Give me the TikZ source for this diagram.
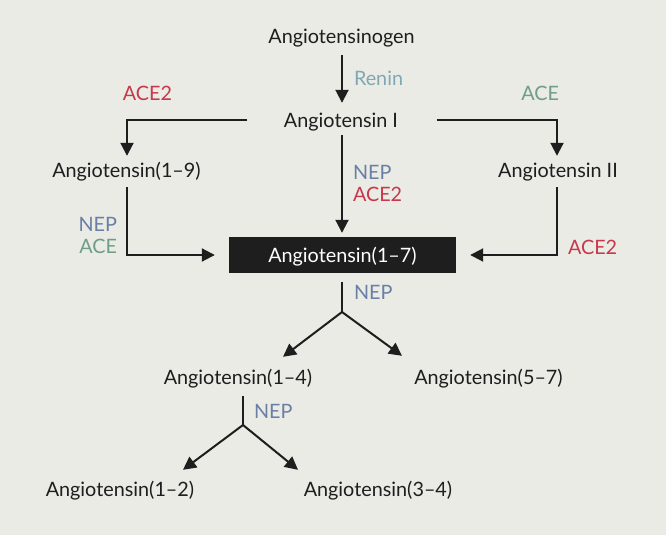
\documentclass[tikz,border=0pt]{standalone}
\usepackage{fontspec}
\setmainfont{Lato}
\usetikzlibrary{arrows.meta,positioning}
\definecolor{bgcol}{HTML}{E9EBE4}
\definecolor{renin}{HTML}{7FA8B5}
\definecolor{acetwo}{HTML}{C8374B}
\definecolor{aceone}{HTML}{6E9E86}
\definecolor{nep}{HTML}{6A7FA6}
\definecolor{ink}{HTML}{1E1E1E}

\begin{document}
\begin{tikzpicture}[x=1pt, y=-1pt,
  mol/.style={font=\fontsize{19.8}{22}\selectfont, text=ink, inner sep=2pt, text height=14pt, text depth=0pt},
  hub/.style={mol, fill=ink, text=white, minimum width=227pt, minimum height=36pt},
  enz/.style={font=\fontsize{19.8}{22}\selectfont, inner sep=1pt},
  arr/.style={-{Triangle[length=13pt,width=13pt]}, line width=2pt, draw=ink},
  ln/.style={line width=2pt, draw=ink}
]
\fill[bgcol] (0,0) rectangle (666,535);
\useasboundingbox (0,0) rectangle (666,535);

\node[mol] (agt) at (341.5,37) {Angiotensinogen};
\node[mol] (ang1) at (341,120) {Angiotensin I};
\node[mol] (ang19) at (126.5,170) {Angiotensin(1–9)};
\node[mol] (ang2) at (558,170) {Angiotensin II};
\node[hub] (ang17) at (342.5,255) {Angiotensin(1–7)};
\node[mol] (ang14) at (238,377) {Angiotensin(1–4)};
\node[mol] (ang57) at (488.5,377) {Angiotensin(5–7)};
\node[mol] (ang12) at (120,489) {Angiotensin(1–2)};
\node[mol] (ang34) at (378,489) {Angiotensin(3–4)};

\coordinate (fk1) at (342,312);
\coordinate (fk2) at (243,425);

% upper pathway
\draw[arr, shorten <=9pt, shorten >=8pt] (agt.south -| fk1) -- node[enz, right=10pt, text=renin] {Renin} (ang1.north -| fk1);
\draw[arr, shorten >=5pt] ([xshift=-34.5pt]ang1.west) -| node[enz, pos=0.415, above=17pt, text=acetwo] {ACE2} ([xshift=0.5pt]ang19.north);
\draw[arr, shorten >=5pt] ([xshift=36.5pt]ang1.east) -| node[enz, pos=0.43, above=17pt, text=aceone] {ACE} ([xshift=-1pt]ang2.north);
\draw[arr, shorten <=6pt, shorten >=4pt] (ang1.south -| fk1) -- node[enz, right=9pt, align=left] {\textcolor{nep}{NEP}\\\textcolor{acetwo}{ACE2}} (ang17.north -| fk1);

% into Angiotensin(1-7)
\draw[arr, shorten <=8pt, shorten >=14pt] ([xshift=0.5pt]ang19.south) |- node[enz, pos=0.37, left=8pt, align=right] {\textcolor{nep}{NEP}\\\textcolor{aceone}{ACE}} (ang17.west);
\draw[arr, shorten <=8pt, shorten >=14pt] ([xshift=-1pt]ang2.south) |- node[enz, pos=0.45, right=9pt, text=acetwo] {ACE2} (ang17.east);

% breakdown
\draw[ln, shorten <=9pt] (ang17.south -| fk1) -- node[enz, right=10pt, text=nep] {NEP} (fk1);
\draw[arr] (fk1) -- ([shift={(45,-11)}]ang14.north);
\draw[arr] (fk1) -- ([shift={(-86.5,-12)}]ang57.north);
\draw[ln, shorten <=10pt] (ang14.south -| fk2) -- node[enz, pos=0.65, right=9pt, text=nep] {NEP} (fk2);
\draw[arr] (fk2) -- ([shift={(63,-10)}]ang12.north);
\draw[arr] (fk2) -- ([shift={(-80,-10)}]ang34.north);
\end{tikzpicture}
\end{document}
